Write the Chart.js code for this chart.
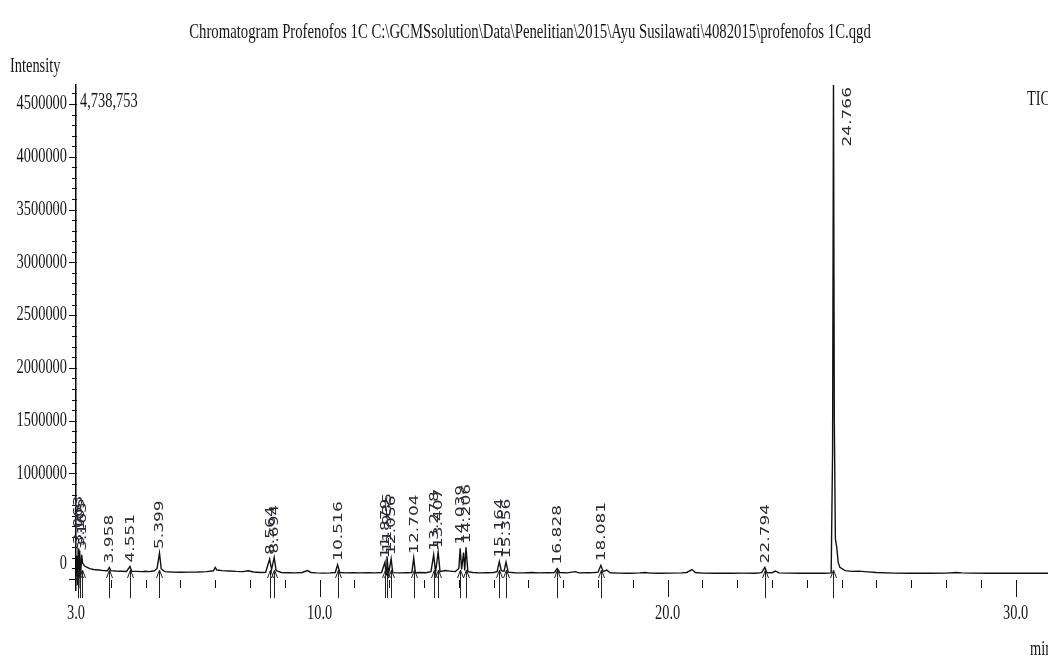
<!DOCTYPE html>
<html>
<head>
<meta charset="utf-8">
<title>Chromatogram Profenofos 1C</title>
<script src="https://cdn.jsdelivr.net/npm/chart.js@4.4.1/dist/chart.umd.min.js"></script>
<style>
    html, body { margin: 0; padding: 0; background: #fff; }
    #wrap { width: 1048px; height: 661px; }
</style>
</head>
<body>
<div id="wrap"><canvas id="chrom" width="1048" height="661"></canvas></div>
<script>
// retention time (min) and TIC intensity
const retTime = [
    3.00, 3.02, 3.04, 3.063, 3.08, 3.105, 3.13, 3.163, 3.19, 3.24, 3.32, 3.40, 3.50, 3.65, 3.80, 3.90,
    3.958, 4.00, 4.15, 4.30, 4.45, 4.551, 4.60, 4.75, 4.90, 5.00, 5.10, 5.25, 5.33, 5.399, 5.45, 5.55,
    5.75, 6.00, 6.25, 6.50, 6.75, 6.95, 7.00, 7.05, 7.20, 7.40, 7.60, 7.80, 7.95, 8.10, 8.30, 8.45,
    8.564, 8.62, 8.694, 8.75, 8.90, 9.10, 9.30, 9.50, 9.65, 9.75, 9.90, 10.10, 10.30, 10.45, 10.516, 10.58,
    10.75, 10.95, 11.15, 11.40, 11.60, 11.78, 11.879, 11.91, 11.935, 11.98, 12.056, 12.10, 12.30, 12.50, 12.65, 12.704,
    12.75, 12.90, 13.05, 13.20, 13.278, 13.33, 13.407, 13.46, 13.60, 13.75, 13.90, 14.00, 14.039, 14.08, 14.136, 14.17,
    14.206, 14.26, 14.40, 14.60, 14.80, 15.00, 15.10, 15.164, 15.22, 15.30, 15.356, 15.42, 15.60, 15.85, 16.10, 16.30,
    16.55, 16.75, 16.828, 16.90, 17.10, 17.35, 17.45, 17.70, 17.90, 18.00, 18.081, 18.15, 18.25, 18.35, 18.60, 18.90,
    19.20, 19.35, 19.50, 19.80, 20.10, 20.40, 20.55, 20.70, 20.80, 21.00, 21.40, 21.80, 22.20, 22.50, 22.70, 22.794,
    22.85, 23.00, 23.10, 23.20, 23.50, 23.80, 24.20, 24.50, 24.70, 24.74, 24.766, 24.79, 24.82, 24.86, 24.90, 24.95,
    25.10, 25.30, 25.50, 25.75, 26.00, 26.50, 27.00, 27.50, 28.00, 28.30, 28.45, 28.70, 29.20, 29.70, 30.20, 30.60,
    30.93
];
const tic = [
    40000, 220000, -60000, 290000, -90000, 270000, 20000, 230000, 150000, 125000, 110000, 98000, 90000, 85000, 80000, 78000,
    110000, 80000, 76000, 74000, 72000, 118000, 74000, 72000, 70000, 73000, 70000, 78000, 100000, 246000, 95000, 70000,
    66000, 64000, 65000, 66000, 70000, 78000, 110000, 85000, 80000, 76000, 72000, 70000, 78000, 66000, 62000, 64000,
    190000, 90000, 205000, 80000, 62000, 60000, 58000, 62000, 80000, 62000, 58000, 56000, 58000, 62000, 135000, 62000,
    58000, 60000, 58000, 60000, 58000, 62000, 160000, 40000, 215000, 50000, 190000, 60000, 58000, 60000, 62000, 200000,
    60000, 62000, 60000, 70000, 230000, 60000, 256000, 70000, 80000, 75000, 70000, 100000, 290000, 90000, 250000, 80000,
    300000, 70000, 62000, 58000, 60000, 62000, 70000, 165000, 80000, 75000, 160000, 65000, 60000, 58000, 62000, 58000,
    60000, 62000, 100000, 62000, 58000, 70000, 58000, 60000, 62000, 65000, 130000, 70000, 85000, 60000, 56000, 55000,
    58000, 62000, 56000, 55000, 56000, 58000, 62000, 90000, 62000, 56000, 54000, 55000, 56000, 55000, 60000, 110000,
    62000, 60000, 75000, 58000, 56000, 55000, 54000, 55000, 58000, 1200000, 4738753, 1500000, 380000, 300000, 160000, 110000,
    80000, 72000, 75000, 68000, 62000, 56000, 55000, 54000, 56000, 62000, 58000, 56000, 55000, 54000, 55000, 54000,
    55000
];

// labelled peaks
const peakTimes = [3.063, 3.105, 3.163, 3.958, 4.551, 5.399, 8.564, 8.694, 10.516, 11.879, 11.935, 12.056,
    12.704, 13.278, 13.407, 14.039, 14.206, 15.164, 15.356, 16.828, 18.081, 22.794, 24.766];
const peakLabels = peakTimes.map(t => t.toFixed(3));

// 500000 carries only a minor tick on the printout
const yTickValues = [0, 1000000, 1500000, 2000000, 2500000, 3000000, 3500000, 4000000, 4500000];
const xTickValues = [3, 10, 20, 30];

const chartTitle = 'Chromatogram Profenofos 1C C:\\GCMSsolution\\Data\\Penelitian\\2015\\Ayu Susilawati\\4082015\\profenofos 1C.qgd';
const maxLabel = Math.max(...tic).toLocaleString('en-US');

const SERIF = '"Liberation Serif", "Times New Roman", serif';
const SANS = '"DejaVu Sans", Verdana, sans-serif';

function serifText(ctx, text, x, y, size, align, sx) {
    ctx.save();
    ctx.font = size + 'px ' + SERIF;
    ctx.fillStyle = '#151515';
    ctx.textBaseline = 'middle';
    ctx.textAlign = align || 'left';
    ctx.translate(x, y);
    ctx.scale(sx || 0.72, 1);
    ctx.fillText(text, 0, 0);
    ctx.restore();
}

function peakHeight(t) {
    let best = 0;
    retTime.forEach((rt, i) => {
        if (Math.abs(rt - t) < 0.005 && tic[i] > best) best = tic[i];
    });
    return best;
}

const chromDecor = {
    id: 'chromDecor',
    afterDatasetsDraw(chart) {
        const ctx = chart.ctx;
        const xs = chart.scales.x;
        const ys = chart.scales.y;
        const area = chart.chartArea;
        const base = ys.getPixelForValue(0);

        ctx.save();
        ctx.strokeStyle = '#111';
        ctx.lineWidth = 1;

        // y ticks, minor every 100000
        for (let v = 0; v <= 4600000; v += 100000) {
            const py = Math.round(ys.getPixelForValue(v)) + 0.5;
            const major = yTickValues.includes(v);
            ctx.beginPath();
            ctx.moveTo(area.left - (major ? 7 : 4), py);
            ctx.lineTo(area.left + 1, py);
            ctx.stroke();
        }
        yTickValues.forEach(v => {
            // the printout sets its "0" a little above the zero tick
            const lift = v === 0 ? -15 : 0;
            serifText(ctx, String(v), area.left - 9, ys.getPixelForValue(v) + lift, 20, 'right');
        });

        // x ticks, minor every minute
        for (let t = 4; t <= 30; t++) {
            const px = Math.round(xs.getPixelForValue(t)) + 0.5;
            const major = xTickValues.includes(t);
            ctx.beginPath();
            ctx.moveTo(px, base + 1);
            ctx.lineTo(px, base + (major ? 18 : 9));
            ctx.stroke();
        }
        xTickValues.forEach(t => {
            serifText(ctx, t.toFixed(1), xs.getPixelForValue(t), base + 35, 20, 'center');
        });

        // peak markers and labels
        ctx.font = '17px ' + SANS;
        peakTimes.forEach((t, i) => {
            const px = Math.round(xs.getPixelForValue(t)) + 0.5;

            ctx.strokeStyle = '#222';
            ctx.beginPath();
            ctx.moveTo(px, base + 19);
            ctx.lineTo(px, base - 9);
            ctx.moveTo(px - 3, base - 1);
            ctx.lineTo(px, base - 9);
            ctx.lineTo(px + 3, base - 1);
            ctx.stroke();

            const len = ctx.measureText(peakLabels[i]).width;
            let py = ys.getPixelForValue(peakHeight(t)) - 4;
            let dx = 0;
            if (py - len < area.top) {
                py = area.top + len + 2;
                dx = 14;
            }
            ctx.save();
            ctx.fillStyle = '#2b2b38';
            ctx.translate(px + dx, py);
            ctx.rotate(-Math.PI / 2);
            ctx.scale(1, 0.7);
            ctx.textAlign = 'left';
            ctx.textBaseline = 'middle';
            ctx.fillText(peakLabels[i], 0, 0);
            ctx.restore();
        });
        ctx.restore();
    },
    afterDraw(chart) {
        const ctx = chart.ctx;
        serifText(ctx, chartTitle, 530, 32, 22, 'center', 0.67);
        serifText(ctx, 'Intensity', 10, 67, 20, 'left');
        serifText(ctx, maxLabel, chart.chartArea.left + 4, 102, 20, 'left');
        serifText(ctx, 'TIC', 1027, 100, 20, 'left');
        serifText(ctx, 'min', 1030, 650, 20, 'left');
    }
};

new Chart(document.getElementById('chrom'), {
    type: 'line',
    data: {
        datasets: [{
            data: retTime.map((t, i) => ({ x: t, y: tic[i] })),
            borderColor: '#111',
            borderWidth: 1.4,
            pointRadius: 0,
            tension: 0
        }]
    },
    options: {
        responsive: false,
        animation: false,
        events: [],
        layout: {
            padding: { top: 85, right: 0, bottom: 0, left: 0 }
        },
        plugins: {
            legend: { display: false },
            tooltip: { enabled: false },
            title: { display: false }
        },
        scales: {
            x: {
                type: 'linear',
                min: 3.0,
                max: 30.93,
                grid: { display: false },
                border: { display: false },
                ticks: { display: false },
                afterFit: scale => { scale.height = 71; }
            },
            y: {
                min: -104000,
                max: 4680000,
                grid: { display: false },
                border: { display: true, color: '#000', width: 1.5 },
                ticks: { display: false },
                afterFit: scale => { scale.width = 76; }
            }
        }
    },
    plugins: [chromDecor]
});
</script>
</body>
</html>
